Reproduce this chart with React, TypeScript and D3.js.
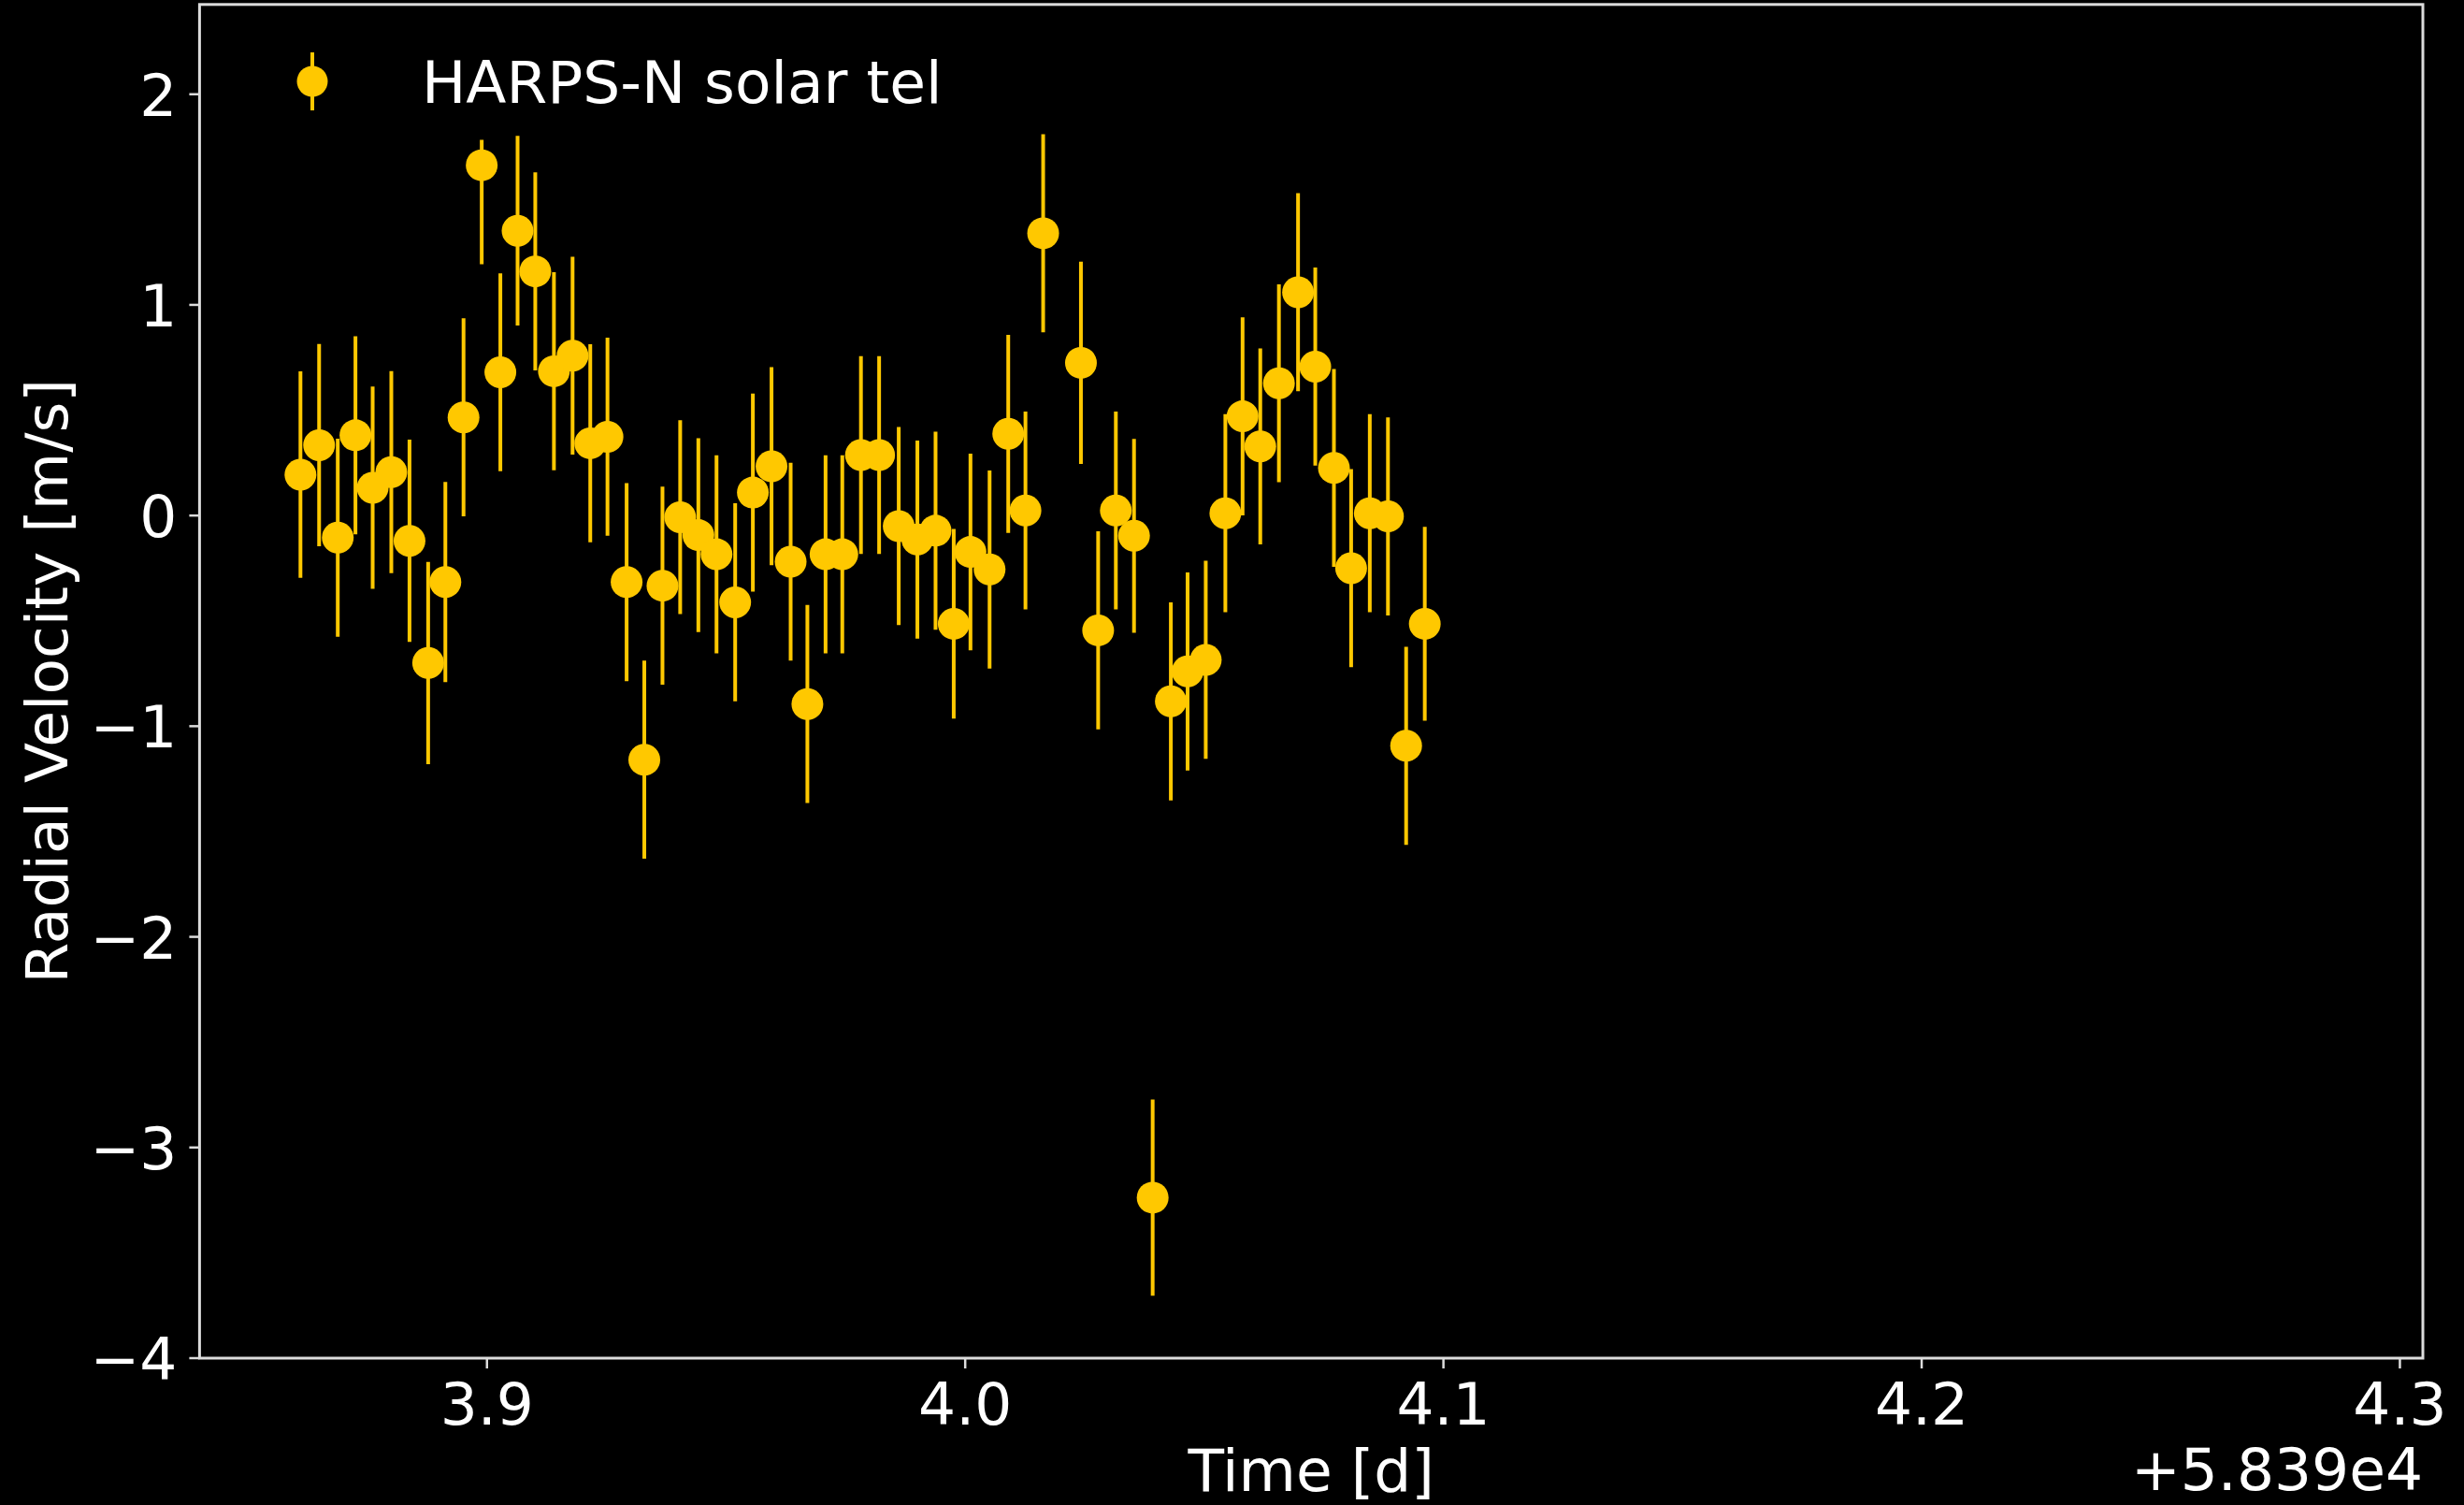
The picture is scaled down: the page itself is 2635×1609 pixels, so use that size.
import React from "react";
import * as d3 from "d3";

// Observation times (days, offset by +5.839e4) and radial velocities (m/s)
const times = [
  3.861, 3.8649, 3.8688, 3.8725, 3.8761, 3.88, 3.8838, 3.8877, 3.8913, 3.8951,
  3.8989, 3.9028, 3.9064, 3.9101, 3.914, 3.9179, 3.9216, 3.9252, 3.9292, 3.9329,
  3.9367, 3.9404, 3.9442, 3.948, 3.9519, 3.9556, 3.9595, 3.9635, 3.967, 3.9708,
  3.9743, 3.9782, 3.982, 3.9861, 3.99, 3.9938, 3.9976, 4.0011, 4.0051, 4.009,
  4.0126, 4.0163, 4.0242, 4.0278, 4.0315, 4.0353, 4.0392, 4.043, 4.0465, 4.0503,
  4.0544, 4.058, 4.0617, 4.0656, 4.0696, 4.0732, 4.0771, 4.0807, 4.0846, 4.0884,
  4.0922, 4.0961,
];

const rv = [
  0.194, 0.334, -0.105, 0.381, 0.132, 0.206, -0.12, -0.7, -0.316, 0.466,
  1.663, 0.68, 1.352, 1.159, 0.685, 0.759, 0.343, 0.374, -0.316, -1.159,
  -0.333, -0.008, -0.093, -0.184, -0.412, 0.109, 0.234, -0.219, -0.895, -0.184,
  -0.184, 0.287, 0.287, -0.05, -0.114, -0.072, -0.514, -0.173, -0.256, 0.388,
  0.024, 1.34, 0.725, -0.545, 0.024, -0.096, -3.238, -0.882, -0.74, -0.685,
  0.011, 0.471, 0.328, 0.628, 1.06, 0.707, 0.226, -0.25, 0.011, -0.004,
  -1.093, -0.514,
];

// Lower and upper uncertainties (m/s)
const rvErrLow = [
  0.49, 0.48, 0.47, 0.47, 0.48, 0.48, 0.48, 0.48, 0.475, 0.47,
  0.47, 0.47, 0.45, 0.47, 0.47, 0.47, 0.47, 0.47, 0.47, 0.47,
  0.47, 0.46, 0.46, 0.47, 0.47, 0.47, 0.47, 0.47, 0.47, 0.47,
  0.47, 0.47, 0.47, 0.47, 0.47, 0.47, 0.45, 0.467, 0.47, 0.47,
  0.47, 0.47, 0.48, 0.47, 0.47, 0.46, 0.466, 0.47, 0.47, 0.47,
  0.47, 0.47, 0.465, 0.47, 0.47, 0.47, 0.47, 0.47, 0.47, 0.47,
  0.47, 0.46,
];
const rvErrHigh = [
  0.49, 0.48, 0.47, 0.47, 0.48, 0.48, 0.48, 0.48, 0.475, 0.47,
  0.12, 0.47, 0.45, 0.47, 0.47, 0.47, 0.47, 0.47, 0.47, 0.47,
  0.47, 0.46, 0.46, 0.47, 0.47, 0.47, 0.47, 0.47, 0.47, 0.47,
  0.47, 0.47, 0.47, 0.47, 0.47, 0.47, 0.45, 0.467, 0.47, 0.47,
  0.47, 0.47, 0.48, 0.47, 0.47, 0.46, 0.466, 0.47, 0.47, 0.47,
  0.47, 0.47, 0.465, 0.47, 0.47, 0.47, 0.47, 0.47, 0.47, 0.47,
  0.47, 0.46,
];

const xTicks = [3.9, 4.0, 4.1, 4.2, 4.3];
const yTicks = [-4, -3, -2, -1, 0, 1, 2];
const xDomain = [3.8399, 4.3048];
const yDomain = [-4.0, 2.426];

const seriesLabel = "HARPS-N solar tel";
const xLabel = "Time [d]";
const yLabel = "Radial Velocity [m/s]";
const offsetLabel = "+5.839e4";

const W = 2635;
const H = 1609;
const plot = { left: 213.4, right: 2591, top: 4.8, bottom: 1452 };
const FONT = "'DejaVu Sans', Verdana, sans-serif";
const FS = 63;
const GOLD = "#FFC800";
const SPINE = "#dcdcdc";

const minus = (s: string) => s.replace("-", "\u2212");
const fmtX = (v: number) => minus(v.toFixed(1));
const fmtY = (v: number) => minus(String(v));

export default function App() {
  React.useEffect(() => {
    document.body.style.margin = "0";
    document.body.style.background = "#000";
  }, []);

  const x = d3.scaleLinear().domain(xDomain).range([plot.left, plot.right]);
  const y = d3.scaleLinear().domain(yDomain).range([plot.bottom, plot.top]);

  const points = times.map((t, i) => ({
    t,
    v: rv[i],
    lo: rv[i] - rvErrLow[i],
    hi: rv[i] + rvErrHigh[i],
  }));

  const legendX = 334;
  const legendY = 87;

  return (
    <svg
      width={W}
      height={H}
      style={{ position: "absolute", left: 0, top: 0, display: "block" }}
      fontFamily={FONT}
    >
      <rect x={0} y={0} width={W} height={H} fill="#000" />

      {/* error bars */}
      <g stroke={GOLD} strokeWidth={4}>
        {points.map((p, i) => (
          <line key={i} x1={x(p.t)} x2={x(p.t)} y1={y(p.lo)} y2={y(p.hi)} />
        ))}
      </g>
      {/* markers */}
      <g fill={GOLD}>
        {points.map((p, i) => (
          <circle key={i} cx={x(p.t)} cy={y(p.v)} r={17} />
        ))}
      </g>

      {/* spines */}
      <rect
        x={plot.left}
        y={plot.top}
        width={plot.right - plot.left}
        height={plot.bottom - plot.top}
        fill="none"
        stroke={SPINE}
        strokeWidth={3}
      />

      {/* y ticks */}
      <g fill="#fff" fontSize={FS} textAnchor="end">
        {yTicks.map((v) => (
          <g key={v}>
            <line
              x1={plot.left - 11}
              x2={plot.left}
              y1={y(v)}
              y2={y(v)}
              stroke={SPINE}
              strokeWidth={2.5}
            />
            <text x={plot.left - 24} y={y(v) + 23}>
              {fmtY(v)}
            </text>
          </g>
        ))}
      </g>

      {/* x ticks */}
      <g fill="#fff" fontSize={FS} textAnchor="middle">
        {xTicks.map((v) => (
          <g key={v}>
            <line
              x1={x(v)}
              x2={x(v)}
              y1={plot.bottom}
              y2={plot.bottom + 11}
              stroke={SPINE}
              strokeWidth={2.5}
            />
            <text x={x(v)} y={1523}>
              {fmtX(v)}
            </text>
          </g>
        ))}
      </g>

      {/* axis labels */}
      <text
        x={(plot.left + plot.right) / 2}
        y={1594}
        fill="#fff"
        fontSize={FS}
        textAnchor="middle"
      >
        {xLabel}
      </text>
      <text
        x={plot.right}
        y={1593}
        fill="#fff"
        fontSize={FS}
        textAnchor="end"
      >
        {offsetLabel}
      </text>
      <text
        transform={`translate(72, ${(plot.top + plot.bottom) / 2}) rotate(-90)`}
        fill="#fff"
        fontSize={FS}
        textAnchor="middle"
      >
        {yLabel}
      </text>

      {/* legend */}
      <line
        x1={legendX}
        x2={legendX}
        y1={legendY - 31}
        y2={legendY + 31}
        stroke={GOLD}
        strokeWidth={4}
      />
      <circle cx={legendX} cy={legendY} r={16.5} fill={GOLD} />
      <text x={451} y={110} fill="#fff" fontSize={FS}>
        {seriesLabel}
      </text>
    </svg>
  );
}
